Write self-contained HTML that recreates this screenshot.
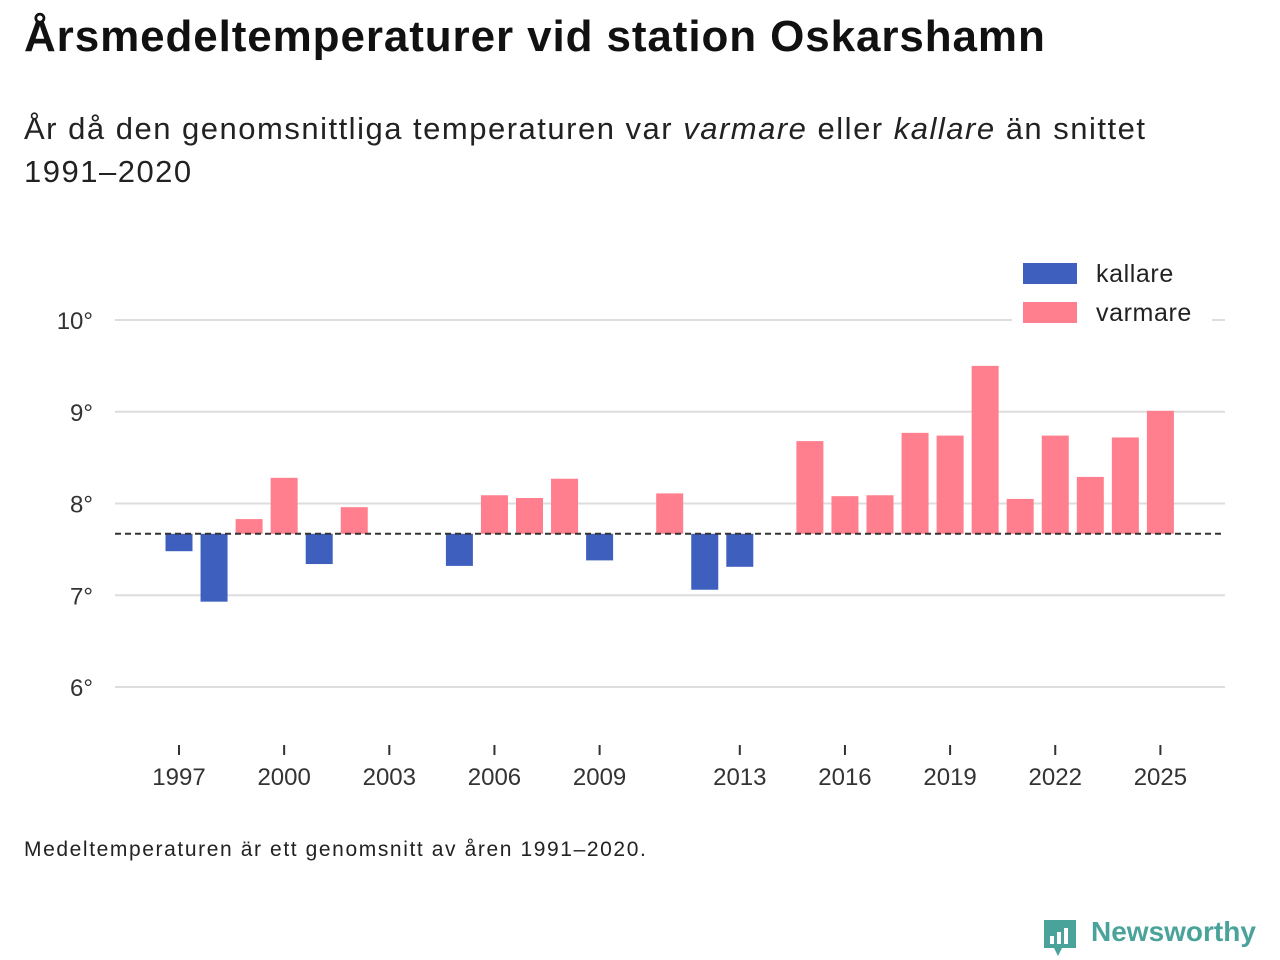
<!DOCTYPE html>
<html><head><meta charset="utf-8">
<style>
body{margin:0;background:#fff;width:1280px;height:960px;overflow:hidden;font-family:"Liberation Sans","DejaVu Sans",sans-serif;color:#111}
h1{position:absolute;left:24px;top:12px;margin:0;font-size:44px;font-weight:bold;letter-spacing:0.9px}
.sub{position:absolute;left:24px;top:107px;margin:0;font-size:31px;line-height:43px;color:#222;width:1240px;letter-spacing:1.5px}
.note{position:absolute;left:24px;top:838px;font-size:21px;color:#222;letter-spacing:1.6px}
.logo{position:absolute;left:1042px;top:916px;font-size:28px;font-weight:bold;color:#4aa39a}
svg{position:absolute;left:0;top:0}
</style></head><body>
<h1>Årsmedeltemperaturer vid station Oskarshamn</h1>
<p class="sub">År då den genomsnittliga temperaturen var <i>varmare</i> eller <i>kallare</i> än snittet<br>1991–2020</p>
<svg id="chart" width="1280" height="960"></svg>
<div class="note">Medeltemperaturen är ett genomsnitt av åren 1991–2020.</div>
<div class="logo"><svg width="36" height="40" style="position:absolute;left:0;top:2px;" viewBox="0 0 36 40"><path d="M2 2h32v28h-14l-4 8-4-8H2z" fill="#4aa39a"/><rect x="8" y="18" width="4" height="8" fill="#fff"/><rect x="15" y="14" width="4" height="12" fill="#fff"/><rect x="22" y="10" width="4" height="16" fill="#fff"/></svg><span style="margin-left:49px">Newsworthy</span></div>
<script>
const years=[1997,1998,1999,2000,2001,2002,2005,2006,2007,2008,2009,2011,2012,2013,2015,2016,2017,2018,2019,2020,2021,2022,2023,2024,2025];
const temps=[7.48,6.93,7.83,8.28,7.34,7.96,7.32,8.09,8.06,8.27,7.38,8.11,7.06,7.31,8.68,8.08,8.09,8.77,8.74,9.50,8.05,8.74,8.29,8.72,9.01];
const baseline=7.67;
const yTicks=[6,7,8,9,10];
const xTicks=[1997,2000,2003,2006,2009,2013,2016,2019,2022,2025];
const NS="http://www.w3.org/2000/svg";
const svg=document.getElementById('chart');
const x=y=>179+(y-1997)*35.05;
const yS=v=>320+(10-v)*91.75;
function mk(t,a){const e=document.createElementNS(NS,t);for(const k in a)e.setAttribute(k,a[k]);svg.appendChild(e);return e;}
yTicks.forEach(v=>{
  const l=mk('line',{x1:115,x2:1225,y1:yS(v),y2:yS(v),stroke:'#dddddd','stroke-width':2});
  
  
  const t=mk('text',{x:93,y:yS(v)+9,'text-anchor':'end','font-size':24,fill:'#333','font-family':'Liberation Sans, sans-serif'});
  t.textContent=v+'°';
  
  
});
xTicks.forEach(yr=>{
  const l=mk('line',{x1:x(yr),x2:x(yr),y1:745,y2:755,stroke:'#333','stroke-width':2});
  
  
  const t=mk('text',{x:x(yr),y:785,'text-anchor':'middle','font-size':24,fill:'#333','font-family':'Liberation Sans, sans-serif'});
  t.textContent=yr;
  
  
});
years.forEach((yr,i)=>{
  const v=temps[i],warm=v>=baseline;
  const y0=yS(Math.max(v,baseline)),y1=yS(Math.min(v,baseline));
  const r=mk('rect',{x:x(yr)-13.5,y:y0,width:27,height:y1-y0,fill:warm?'#ff7f8e':'#3f5fbf'});
  
  
});
const bl=mk('line',{x1:115,x2:1225,y1:yS(baseline),y2:yS(baseline),stroke:'#333','stroke-width':2,'stroke-dasharray':'6,4'});


const bg=mk('rect',{x:1012,y:255,width:200,height:72,fill:'#fff'});


[['kallare','#3f5fbf',263],['varmare','#ff7f8e',302]].forEach(([n,c,yy])=>{
  const r=mk('rect',{x:1023,y:yy,width:54,height:21,fill:c});
  
  
  const t=mk('text',{x:1096,y:yy+19,'font-size':25,fill:'#222','font-family':'Liberation Sans, sans-serif','letter-spacing':0.6});
  t.textContent=n;
  
  
});
</script>
</body></html>
